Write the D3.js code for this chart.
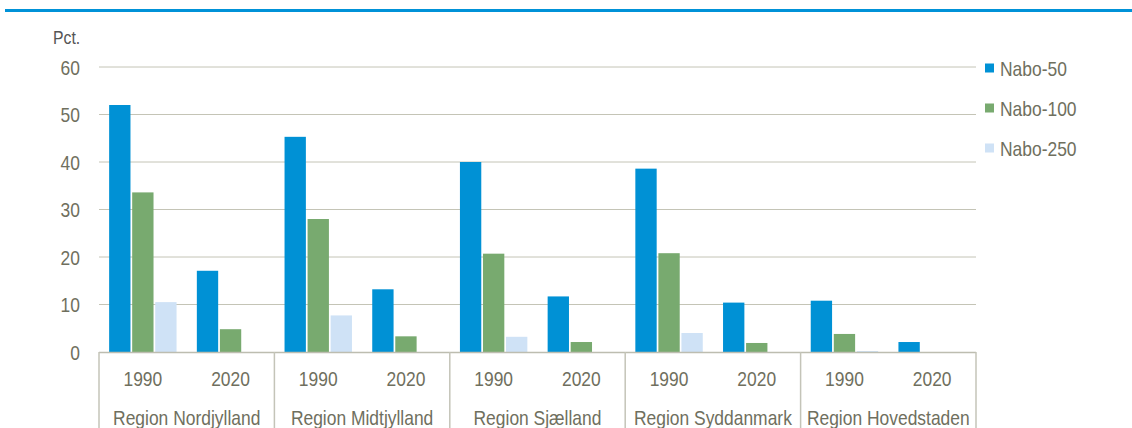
<!DOCTYPE html>
<html>
<head>
<meta charset="utf-8">
<script src="https://cdn.jsdelivr.net/npm/d3@7"></script>
<style>
  body { margin: 0; background: #fff; }
  svg text { font-family: "Liberation Sans", Arial, sans-serif; fill: #6f6f5e; }
</style>
</head>
<body>
<div id="chart"></div>
<script>
// chart data
const regions = ["Region Nordjylland", "Region Midtjylland", "Region Sjælland", "Region Syddanmark", "Region Hovedstaden"];
const years = ["1990", "2020"];
const series = ["Nabo-50", "Nabo-100", "Nabo-250"];
const colors = ["#0091d5", "#78aa6f", "#cfe2f6"];
const yTicks = [0, 10, 20, 30, 40, 50, 60];

// values per series, in order region x year
const nabo50  = [52.0, 17.1, 45.3, 13.2, 40.0, 11.7, 38.6, 10.4, 10.8, 2.1];
const nabo100 = [33.6, 4.8, 28.0, 3.3, 20.7, 2.1, 20.8, 1.9, 3.8, 0];
const nabo250 = [10.5, 0, 7.7, 0, 3.2, 0, 4.0, 0, 0.2, 0];

const W = 1132, H = 428;
const margin = {left: 99, right: 156, top: 67, bottom: 76};
const plotW = W - margin.left - margin.right;
const plotH = H - margin.top - margin.bottom;

const svg = d3.select("#chart").append("svg")
    .attr("width", W)
    .attr("height", H);

// blue rule on top
svg.append("line")
    .attr("x1", 5).attr("x2", W)
    .attr("y1", 10.5).attr("y2", 10.5)
    .attr("stroke", "#0092d8")
    .attr("stroke-width", 3);

const g = svg.append("g")
    .attr("transform", `translate(${margin.left},${margin.top})`);

// categories: one per region/year pair
const cats = [];
regions.forEach(r => years.forEach(y => cats.push(r + "|" + y)));

const x0 = d3.scaleBand().domain(cats).range([0, plotW]).padding(0);
const x1 = d3.scaleBand().domain(series).range([0, x0.bandwidth()])
    .paddingInner(0.074).paddingOuter(0.44);
const y = d3.scaleLinear().domain([0, 60]).range([plotH, 0]);

// gridlines
g.selectAll(".grid")
    .data(yTicks.filter(d => d > 0))
    .enter().append("line")
    .attr("class", "grid")
    .attr("x1", 0).attr("x2", plotW)
    .attr("y1", d => y(d)).attr("y2", d => y(d))
    .attr("stroke", "#c4c4b6")
    .attr("stroke-width", 1);

// y tick labels
g.selectAll(".ytick")
    .data(yTicks)
    .enter().append("text")
    .attr("class", "ytick")
    .attr("x", -19)
    .attr("y", d => y(d))
    .attr("dy", "0.36em")
    .attr("text-anchor", "end")
    .style("font-size", "21px")
    .text(d => d);

svg.append("text")
    .attr("x", 53).attr("y", 44)
    .style("font-size", "19px")
    .style("fill", "#555")
    .text("Pct.");

// bars
const allSeries = [nabo50, nabo100, nabo250];
const barData = [];
cats.forEach((c, i) => {
    series.forEach((s, j) => barData.push({cat: c, series: s, color: colors[j], value: allSeries[j][i]}));
});

g.selectAll(".bar")
    .data(barData)
    .enter().append("rect")
    .attr("class", "bar")
    .attr("x", d => x0(d.cat) + x1(d.series))
    .attr("width", x1.bandwidth())
    .attr("y", d => y(d.value))
    .attr("height", d => plotH - y(d.value))
    .attr("fill", d => d.color);

// category axis
g.append("line")
    .attr("x1", 0).attr("x2", plotW)
    .attr("y1", plotH + 0.5).attr("y2", plotH + 0.5)
    .attr("stroke", "#bdbdb0")
    .attr("stroke-width", 1.5);

const regionW = x0.bandwidth() * years.length;
g.selectAll(".sep")
    .data(d3.range(regions.length + 1))
    .enter().append("line")
    .attr("class", "sep")
    .attr("x1", i => i * regionW).attr("x2", i => i * regionW)
    .attr("y1", plotH).attr("y2", H - margin.top)
    .attr("stroke", "#c4c4b8")
    .attr("stroke-width", 1.5);

g.selectAll(".year")
    .data(cats)
    .enter().append("text")
    .attr("class", "year")
    .attr("x", d => x0(d) + x0.bandwidth() / 2)
    .attr("y", plotH + 26)
    .attr("dy", "0.36em")
    .attr("text-anchor", "middle")
    .style("font-size", "21px")
    .text(d => d.split("|")[1]);

g.selectAll(".region")
    .data(regions)
    .enter().append("text")
    .attr("class", "region")
    .attr("x", (d, i) => i * regionW + regionW / 2)
    .attr("y", plotH + 73)
    .attr("text-anchor", "middle")
    .style("font-size", "21px")
    .text(d => d);

// legend
const legend = svg.selectAll(".legend")
    .data(series)
    .enter().append("g")
    .attr("class", "legend")
    .attr("transform", (d, i) => `translate(985,${68 + i * 40})`);

legend.append("rect")
    .attr("x", 0).attr("y", -4.5)
    .attr("width", 9).attr("height", 9)
    .attr("fill", (d, i) => colors[i]);

legend.append("text")
    .attr("x", 15)
    .attr("y", 0)
    .attr("dy", "0.36em")
    .style("font-size", "21px")
    .text(d => d);

// the source font is a narrow face: squeeze the glyphs horizontally
svg.selectAll("text").each(function() {
    const w = this.getComputedTextLength();
    d3.select(this)
        .attr("textLength", w * 0.83)
        .attr("lengthAdjust", "spacingAndGlyphs");
});
</script>
</body>
</html>
